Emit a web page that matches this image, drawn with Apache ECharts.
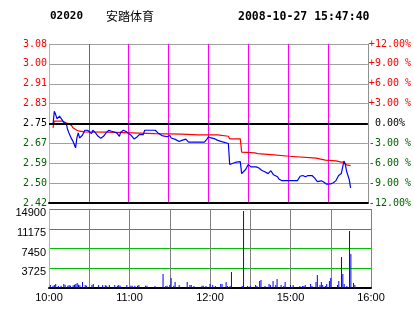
<!DOCTYPE html>
<html><head><meta charset="utf-8">
<script src="https://cdn.jsdelivr.net/npm/echarts@6/dist/echarts.min.js"></script>
<style>html,body{margin:0;padding:0;background:#fff}#c{width:414px;height:314px}</style>
</head><body><div id="c"></div>
<script>
// ---- data ----
const stockCode = '02020';
const stockName = '安踏体育';
const stamp = '2008-10-27 15:47:40';
const prevClose = 2.75;

const priceMinutes = [3,4,5,6,7,8,9,10,11,12,13,14,15,16,17,18,19,20,21,22,23,24,25,26,27,29,30,32,33,35,37,39,41,43,45,47,48,51,53,54,56,58,59,62,64,66,68,71,72,80,82,85,89,91,92,95,98,100,103,105,117,119,120,122,125,127,130,131,135,136,137,141,144,145,146,148,150,152,156,158,160,162,165,167,169,172,173,175,187,189,191,193,195,198,200,202,203,205,207,208,209,212,214,216,218,220,222,223,224,226,227];
const prices = [2.746,2.801,2.787,2.770,2.774,2.780,2.783,2.764,2.755,2.760,2.750,2.725,2.711,2.704,2.686,2.677,2.663,2.649,2.690,2.711,2.690,2.690,2.700,2.711,2.722,2.722,2.717,2.708,2.722,2.711,2.697,2.689,2.697,2.711,2.722,2.718,2.722,2.711,2.697,2.714,2.722,2.717,2.711,2.700,2.686,2.693,2.704,2.704,2.722,2.722,2.711,2.700,2.695,2.700,2.690,2.684,2.675,2.680,2.685,2.673,2.673,2.686,2.695,2.690,2.686,2.680,2.675,2.670,2.667,2.580,2.587,2.590,2.592,2.542,2.548,2.559,2.580,2.570,2.570,2.565,2.556,2.551,2.542,2.554,2.537,2.529,2.520,2.513,2.513,2.531,2.534,2.529,2.534,2.534,2.523,2.509,2.506,2.512,2.506,2.512,2.498,2.499,2.504,2.513,2.534,2.542,2.594,2.580,2.552,2.517,2.483];

const avgMinutes = [3,4,10,12,14,17,18,21,23,27,44,45,80,100,112,127,128,135,136,144,145,155,157,167,181,201,208,216,220,222,224,227];
const avgPrices = [2.732,2.760,2.760,2.755,2.750,2.742,2.732,2.722,2.718,2.715,2.714,2.711,2.708,2.706,2.703,2.703,2.697,2.697,2.686,2.686,2.631,2.628,2.625,2.621,2.614,2.606,2.598,2.595,2.590,2.590,2.578,2.575];

const volMinutes = [1,3,4,5,7,9,11,12,14,15,16,18,19,20,21,22,23,25,27,28,32,33,37,40,42,43,45,49,51,52,53,58,61,62,64,66,67,72,73,79,85,87,88,90,91,93,94,97,103,105,106,108,114,115,117,120,122,124,128,129,132,133,135,136,144,145,148,150,154,155,157,158,161,164,165,167,169,170,173,175,176,180,182,187,189,190,191,195,196,199,200,202,203,204,206,207,209,210,215,216,218,219,220,222,224,225,227,228];
const volumes = [570,440,570,760,380,440,760,630,440,570,440,500,630,760,940,630,500,1130,570,440,570,760,570,570,500,440,570,570,440,570,440,570,440,440,440,440,570,440,440,380,2640,380,440,570,1890,440,1130,570,1130,570,570,380,440,440,380,760,570,380,760,760,1130,380,380,3020,380,14530,380,380,570,380,1320,1510,380,760,570,1320,570,1700,570,380,1130,570,570,380,380,380,570,760,380,1130,2450,570,1130,570,380,760,1320,1890,570,1320,5850,2640,760,380,10760,6420,940,570];

const priceTickLabels = ['2.42','2.50','2.59','2.67','2.75','2.83','2.91','3.00','3.08'];
const pctTickLabels = ['-12.00%','-9.00 %','-6.00 %','-3.00 %',' 0.00%','+3.00 %','+6.00 %','+9.00 %','+12.00%'];
const timeTickMinutes = [0,60,120,180,240];
const timeTickLabels = ['10:00','11:00','12:00','15:00','16:00'];
const volTickLabels = ['','3725','7450','11175','14900'];

// ---- chart ----
const toPct = p => (p / prevClose - 1) * 100;
const priceData = priceMinutes.map((m, i) => [m, toPct(prices[i])]);
const avgData = avgMinutes.map((m, i) => [m, toPct(avgPrices[i])]);
const volData = volMinutes.map((m, i) => [m, volumes[i]]);
const tickIdx = v => Math.round(v / 3) + 4;
const signColor = v => v > 0.001 ? '#ff0000' : (v < -0.001 ? '#005f00' : '#000000');
const mono = 'DejaVu Sans Mono';
const split = c => ({show: true, lineStyle: {color: c, width: 1, type: 'solid', opacity: 1}});

const chart = echarts.init(document.getElementById('c'));
chart.setOption({
  animation: false,
  backgroundColor: '#ffffff',
  title: [
    {text: stockCode, left: 50, top: 11, padding: 0, textStyle: {fontFamily: mono, fontWeight: 'bold', fontSize: 11, color: '#000'}},
    {text: stockName, left: 106, top: 10, padding: 0, textStyle: {fontFamily: 'Noto Sans CJK SC', fontWeight: 'normal', fontSize: 12, color: '#000'}},
    {text: stamp, left: 238, top: 11, padding: 0, textStyle: {fontFamily: mono, fontWeight: 'bold', fontSize: 11.5, color: '#000'}}
  ],
  grid: [
    {left: 49, right: 42, top: 44, height: 159},
    {left: 49, right: 43, top: 209, height: 79}
  ],
  xAxis: [
    {type: 'value', gridIndex: 0, min: 0, max: 240, interval: 30,
     axisLabel: {show: false}, axisTick: {show: false},
     axisLine: {onZero: false, lineStyle: {color: '#000', width: 2}},
     splitLine: split('#ff00ff')},
    {type: 'value', gridIndex: 1, min: 0, max: 240, interval: 30,
     axisTick: {show: false},
     axisLine: {onZero: false, lineStyle: {color: '#000', width: 2}},
     splitLine: split('#808080'),
     axisLabel: {margin: 4, fontFamily: 'Liberation Sans', fontSize: 11, color: '#000',
       formatter: v => { const k = timeTickMinutes.indexOf(v); return k >= 0 ? timeTickLabels[k] : ''; }}}
  ],
  yAxis: [
    {type: 'value', gridIndex: 0, min: -12, max: 12, interval: 3,
     axisLine: {show: true, onZero: false, lineStyle: {color: '#b4b4b4'}}, axisTick: {show: false},
     splitLine: split('#a0a0a0'),
     axisLabel: {margin: 2, fontFamily: mono, fontSize: 10, color: signColor,
       formatter: v => priceTickLabels[tickIdx(v)]}},
    {type: 'value', gridIndex: 0, min: -12, max: 12, interval: 3, position: 'right',
     axisLine: {show: true, onZero: false, lineStyle: {color: '#909090'}}, axisTick: {show: false},
     splitLine: {show: false},
     axisLabel: {margin: 1, fontFamily: mono, fontSize: 10, color: signColor,
       formatter: v => pctTickLabels[tickIdx(v)]}},
    {type: 'value', gridIndex: 1, min: 0, max: 14900, interval: 3725,
     axisLine: {show: true, onZero: false, lineStyle: {color: '#b4b4b4'}}, axisTick: {show: false},
     splitLine: split('#00c000'),
     axisLabel: {margin: 3, fontFamily: 'Liberation Sans', fontSize: 11, color: '#000',
       verticalAlign: 'top', lineHeight: 8,
       formatter: v => volTickLabels[Math.round(v / 3725)]}}
  ],
  series: [
    {type: 'line', xAxisIndex: 0, yAxisIndex: 0, data: avgData, symbol: 'none', z: 3,
     lineStyle: {color: '#ff0000', width: 1.2}, itemStyle: {color: '#ff0000'},
     markLine: {silent: true, symbol: ['none', 'none'], label: {show: false},
       lineStyle: {color: '#000', width: 2, type: 'solid'}, data: [{yAxis: 0}]}},
    {type: 'line', xAxisIndex: 0, yAxisIndex: 0, data: priceData, symbol: 'none', z: 4,
     lineStyle: {color: '#0000ff', width: 1.2}, itemStyle: {color: '#0000ff'}},
    {type: 'bar', xAxisIndex: 1, yAxisIndex: 2, data: volData, barWidth: 1, z: 3,
     itemStyle: {color: '#0000ff'}}
  ]
});
</script></body></html>
